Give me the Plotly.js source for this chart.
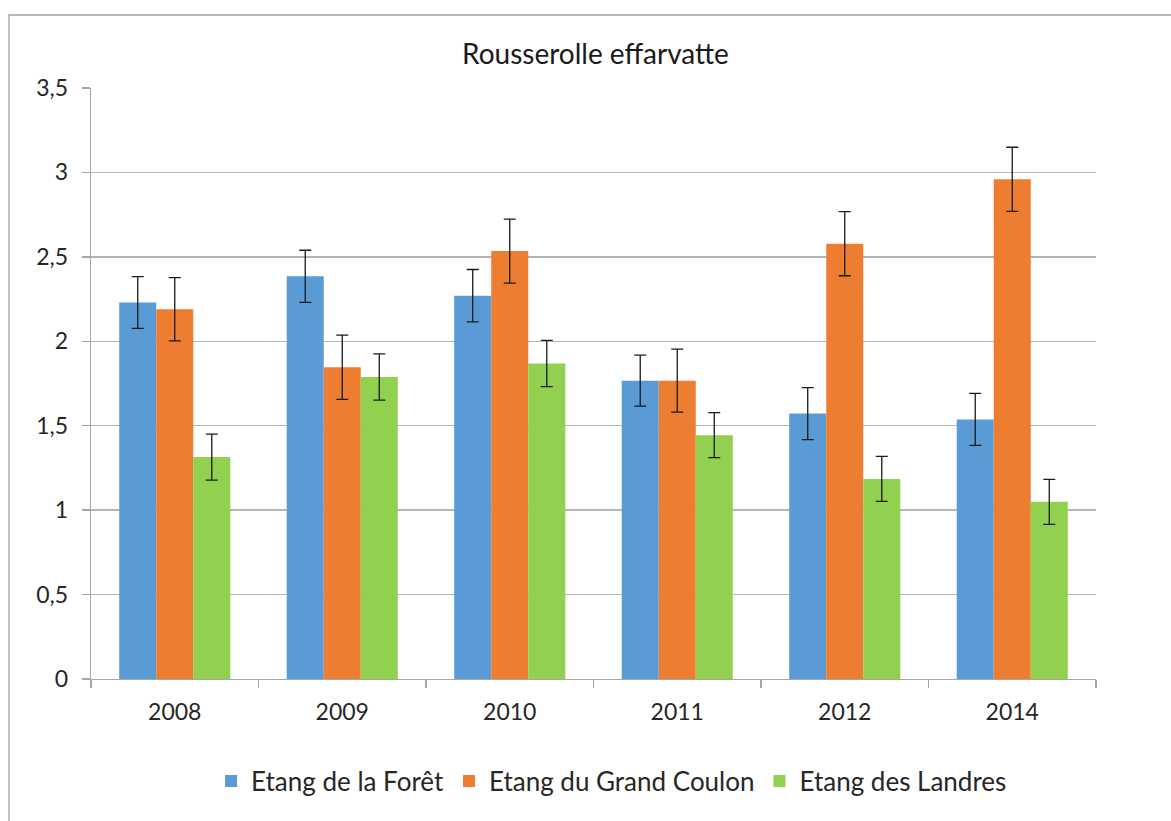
<!DOCTYPE html>
<html>
<head>
<meta charset="utf-8">
<script src="https://cdn.plot.ly/plotly-3.0.1.min.js"></script>
<style>
html,body{margin:0;padding:0;background:#fff;}
#chart{width:1171px;height:821px;}
</style>
</head>
<body>
<div id="chart"></div>
<script>
const categories = ["2008", "2009", "2010", "2011", "2012", "2014"];
const seriesNames = ["Etang de la Forêt", "Etang du Grand Coulon", "Etang des Landres"];
const foretValues = [2.23, 2.385, 2.27, 1.767, 1.572, 1.537];
const foretErrors = [0.153, 0.154, 0.155, 0.151, 0.154, 0.154];
const coulonValues = [2.19, 1.846, 2.534, 1.767, 2.578, 2.959];
const coulonErrors = [0.187, 0.19, 0.19, 0.187, 0.19, 0.19];
const landresValues = [1.314, 1.789, 1.868, 1.444, 1.185, 1.049];
const landresErrors = [0.136, 0.137, 0.137, 0.133, 0.133, 0.133];
const yTickVals = [0, 0.5, 1, 1.5, 2, 2.5, 3, 3.5];
const yTickText = ["0", "0,5", "1", "1,5", "2", "2,5", "3", "3,5"];

const colors = ["#5B9BD5", "#ED7D31", "#92D050"];
const valueSets = [foretValues, coulonValues, landresValues];
const errorSets = [foretErrors, coulonErrors, landresErrors];

const FONT = "Lato, 'Open Sans', sans-serif";

const traces = seriesNames.map((name, i) => ({
  type: "bar",
  name: name,
  x: categories,
  y: valueSets[i],
  marker: {color: colors[i], line: {width: 0}},
  error_y: {type: "data", array: errorSets[i], visible: true, color: "#1a1a1a", thickness: 1.3, width: 6}
}));

const layout = {
  width: 1171,
  height: 821,
  paper_bgcolor: "#ffffff",
  plot_bgcolor: "#ffffff",
  margin: {l: 91, r: 75, t: 88, b: 142},
  separators: ", ",
  font: {family: FONT, size: 23, color: "#262626"},
  title: {
    text: "Rousserolle effarvatte",
    font: {family: FONT, size: 28, color: "#1a1a1a"},
    x: 0.5085, xanchor: "center",
    y: 0.934, yanchor: "middle", yref: "container"
  },
  bargap: 0.337,
  bargroupgap: 0,
  barmode: "group",
  xaxis: {
    type: "category",
    showline: true, linecolor: "#A6A6A6", linewidth: 1.3,
    ticks: "outside", tickson: "boundaries", ticklen: 8, tickcolor: "#A6A6A6", tickwidth: 1.3,
    showgrid: false,
    ticklabelstandoff: 12,
    tickfont: {family: FONT, size: 23, color: "#262626"},
    fixedrange: true
  },
  yaxis: {
    range: [0, 3.5],
    tickvals: yTickVals, ticktext: yTickText,
    showline: true, linecolor: "#A6A6A6", linewidth: 1.3,
    ticks: "outside", ticklen: 8, tickcolor: "#A6A6A6", tickwidth: 1.3,
    showgrid: true, gridcolor: "#B4B4B4", gridwidth: 1.3,
    zeroline: false,
    ticklabelstandoff: 9,
    tickfont: {family: FONT, size: 23, color: "#262626"},
    fixedrange: true
  },
  legend: {
    orientation: "h",
    x: 0.518, xanchor: "center",
    y: -0.1726, yanchor: "middle",
    font: {family: FONT, size: 26, color: "#262626"},
    traceorder: "normal"
  },
  shapes: [{
    type: "path", xref: "paper", yref: "paper",
    path: "M -0.0816 -0.5 L -0.0816 1.1235 L 1.5 1.1235",
    line: {color: "#A0A0A0", width: 1.3},
    layer: "below"
  }]
};

Plotly.newPlot("chart", traces, layout, {displayModeBar: false, staticPlot: true});
</script>
</body>
</html>
